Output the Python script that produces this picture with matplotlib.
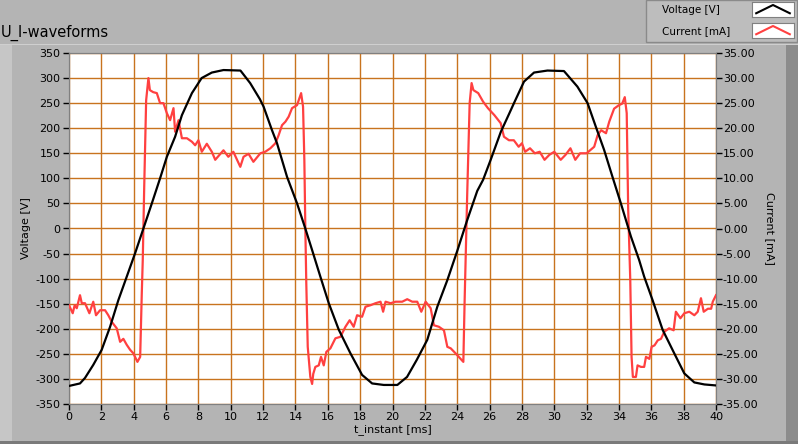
import matplotlib
matplotlib.use('Agg')
import matplotlib.pyplot as plt
import matplotlib.patches as mpatches
from matplotlib.ticker import FormatStrFormatter

plt.rcParams['axes.unicode_minus'] = False
plt.rcParams['font.family'] = ['DejaVu Sans']

# voltage trace [V] over time [ms]
t_volt = [0.0, 0.68, 0.99, 1.5, 2.02, 2.54, 3.05, 3.57, 4.09, 4.6, 5.12, 5.63, 6.05, 6.56,
          6.98, 7.6, 8.2, 8.83, 9.55, 10.6, 11.2, 11.8, 12.03, 12.55, 12.86, 13.48, 14.1,
          14.61, 15.03, 15.54, 16.06, 16.68, 17.4, 18.12, 18.74, 19.46, 20.3, 20.9, 21.5,
          22.15, 22.77, 23.39, 24.0, 24.6, 25.24, 25.6, 26.07, 26.7, 27.2, 27.51, 28.13,
          28.75, 29.58, 30.6, 31.43, 32.06, 32.57, 33.08, 33.6, 34.12, 34.74, 35.25, 35.56,
          36.08, 36.7, 37.42, 38.04, 38.66, 39.28, 40.0]
volt = [-314, -309, -298, -272, -242, -196, -143, -96, -49, 0, 50, 100, 143, 183,
        226, 270, 300, 311, 316, 315, 290, 258, 243, 196, 170, 103, 50,
        0, -43, -96, -149, -202, -249, -292, -309, -312, -312, -296, -262,
        -222, -156, -103, -45, 15, 75, 97, 137, 193, 228, 250, 293,
        311, 315, 314, 283, 250, 203, 157, 103, 50, -16, -63, -96,
        -143, -202, -249, -289, -307, -311, -313]

# current trace [mA] over time [ms]
t_curr = [0.0, 0.23, 0.35, 0.48, 0.68, 0.79, 0.99, 1.26, 1.5, 1.67, 1.92, 2.23, 2.43, 2.64,
          2.95, 3.16, 3.36, 3.57, 3.78, 3.98, 4.23, 4.4, 4.5, 4.56, 4.65, 4.77, 4.91, 5.0,
          5.2, 5.43, 5.63, 5.84, 6.05, 6.25, 6.46, 6.56, 6.77, 6.98, 7.29, 7.6, 7.8, 8.0,
          8.21, 8.52, 8.83, 9.04, 9.55, 9.85, 10.16, 10.59, 10.79, 11.1, 11.4, 11.83, 12.13,
          12.45, 12.76, 12.96, 13.17, 13.38, 13.58, 13.79, 14.1, 14.35, 14.47, 14.55, 14.61,
          14.67, 14.76, 14.92, 15.03, 15.1, 15.23, 15.44, 15.58, 15.75, 15.91, 16.16, 16.47,
          16.78, 17.09, 17.35, 17.6, 17.81, 18.12, 18.33, 18.64, 18.95, 19.26, 19.42, 19.57,
          19.88, 20.19, 20.6, 20.91, 21.22, 21.53, 21.78, 22.05, 22.36, 22.56, 22.87, 23.18,
          23.39, 23.6, 23.9, 24.1, 24.38, 24.46, 24.52, 24.62, 24.77, 24.89, 25.0, 25.3,
          25.6, 25.9, 26.3, 26.69, 26.89, 27.2, 27.5, 27.8, 28.0, 28.2, 28.5, 28.8, 29.1,
          29.4, 29.7, 30.0, 30.4, 30.7, 31.0, 31.3, 31.6, 32.0, 32.47, 32.68, 32.9, 33.2,
          33.4, 33.7, 34.0, 34.2, 34.36, 34.48, 34.57, 34.66, 34.7, 34.78, 34.86, 35.05,
          35.15, 35.36, 35.56, 35.67, 35.88, 36.02, 36.2, 36.4, 36.6, 36.8, 37.1, 37.38,
          37.52, 37.8, 38.04, 38.35, 38.66, 38.87, 39.07, 39.24, 39.5, 39.7, 39.8, 40.0]
curr = [-15.3, -16.9, -15.3, -15.9, -13.3, -14.9, -14.9, -16.9, -14.6, -17.3, -16.3, -16.3, -17.3, -18.6,
        -19.9, -22.6, -22.0, -23.2, -24.2, -24.9, -26.6, -25.6, -12.9, -6.3, 8.3, 25.6, 30.0, 27.6,
        27.2, 27.0, 25.0, 25.0, 23.0, 21.6, 24.0, 19.3, 21.6, 18.0, 18.0, 17.3, 16.6, 17.6,
        15.3, 16.9, 15.3, 13.7, 15.6, 14.3, 15.3, 12.3, 14.3, 14.9, 13.3, 15.0, 15.3,
        16.0, 17.0, 18.6, 20.6, 21.3, 22.3, 24.0, 24.6, 27.0, 24.3, 13.7, 0.3,
        -10.9, -23.6, -29.6, -31.0, -29.0, -27.6, -27.3, -25.6, -27.3, -24.6, -23.9, -21.9,
        -21.6, -19.6, -18.3, -19.6, -17.3, -17.6, -15.6, -15.3, -14.9, -14.6, -16.6, -14.6,
        -14.9, -14.6, -14.6, -14.1, -14.6, -14.6, -16.6, -14.6, -15.9, -19.3, -19.6, -20.3,
        -23.6, -23.9, -24.9, -25.6, -26.6, -14.3, -6.3, 7.0, 25.0, 29.0, 27.6, 27.0,
        25.3, 24.0, 22.6, 21.0, 18.3, 17.6, 17.6, 16.3, 17.0, 15.3, 16.0, 15.0, 15.3,
        13.7, 14.7, 15.3, 13.7, 14.7, 16.0, 13.7, 15.0, 15.0, 16.3, 18.6, 19.6, 19.0,
        21.3, 23.9, 24.6, 24.9, 26.2, 23.0, 4.0, -6.0, -10.3, -25.6, -29.6, -29.6,
        -27.3, -27.6, -27.6, -25.6, -26.0, -23.6, -23.3, -22.3, -22.0, -20.6, -19.9, -20.3,
        -16.6, -17.9, -16.9, -16.6, -17.3, -16.6, -13.9, -16.6, -16.0, -16.0, -14.6, -13.3]

W, H = 798, 444
bg = '#b4b4b4'
grid_col = '#c8731e'

fig = plt.figure(figsize=(W / 100, H / 100), dpi=100, facecolor=bg)


def frame_rect(x, y, w, h, col, z=-10, **kw):
    # rectangle in pixel coords measured from the top-left corner
    r = mpatches.Rectangle((x / W, 1 - (y + h) / H), w / W, h / H, transform=fig.transFigure,
                           facecolor=col, zorder=z, **kw)
    fig.patches.append(r)


# panel frame
frame_rect(0, 44, 12, 397, '#c6c6c6', edgecolor='none')
frame_rect(786, 44, 12, 397, '#8c8c8c', edgecolor='none')
frame_rect(0, 441, 798, 3, '#7a7a7a', edgecolor='none')
frame_rect(0, 44, 798, 1, '#cfcfcf', edgecolor='none')

# title
fig.text(1 / W, 1 - 33 / H, 'U_I-waveforms', fontsize=10.5, va='center', ha='left')

# legend box
frame_rect(646, 0, 151, 42, '#bdbdbd', z=-5, edgecolor='#8a8a8a', lw=1)
legend_names = ['Voltage [V]', 'Current [mA]']
legend_cols = ['black', '#ff4040']
for k, (name, col) in enumerate(zip(legend_names, legend_cols)):
    yc = 10 + k * 21
    fig.text(662 / W, 1 - yc / H, name, fontsize=7.5, va='center', ha='left')
    sw = fig.add_axes([752 / W, 1 - (yc + 7) / H, 42 / W, 15 / H])
    sw.set_facecolor('white')
    sw.plot([0.1, 0.5, 0.9], [0.25, 0.8, 0.25], color=col, lw=1.5)
    sw.set_xlim(0, 1)
    sw.set_ylim(0, 1)
    sw.set_xticks([])
    sw.set_yticks([])
    for s in sw.spines.values():
        s.set_color('#808080')

# main plot
left, right, top, bottom = 69, 716, 53, 404
ax = fig.add_axes([left / W, 1 - bottom / H, (right - left) / W, (bottom - top) / H])
ax.set_facecolor('white')
ax.set_xlim(0, 40)
ax.set_ylim(-350, 350)
ax.set_xticks(range(0, 41, 2))
ax.set_yticks(range(-350, 351, 50))
ax.grid(True, color=grid_col, lw=1)
ax.set_axisbelow(True)
ax.tick_params(direction='out', length=4, width=1, labelsize=8, pad=2, color='black')
ax.set_xlabel('t_instant [ms]', fontsize=8, labelpad=1)
ax.set_ylabel('Voltage [V]', fontsize=8, labelpad=3)
for s in ax.spines.values():
    s.set_color('#808080')

ax2 = ax.twinx()
ax2.set_ylim(-35, 35)
ax2.set_yticks(range(-35, 36, 5))
ax2.yaxis.set_major_formatter(FormatStrFormatter('%.2f'))
ax2.tick_params(direction='out', length=4, width=1, labelsize=8, pad=1, color='black')
ax2.set_ylabel('Current [mA]', fontsize=8, rotation=270, labelpad=12)
for s in ax2.spines.values():
    s.set_color('#808080')

# voltage drawn on the current scale (1 mA grid step = 10 V)
ax2.plot(t_curr, curr, color='#ff4040', lw=1.6, zorder=3)
ax2.plot(t_volt, [v / 10 for v in volt], color='black', lw=1.6, zorder=4)

fig.savefig('out.png', dpi=100, facecolor=bg)
